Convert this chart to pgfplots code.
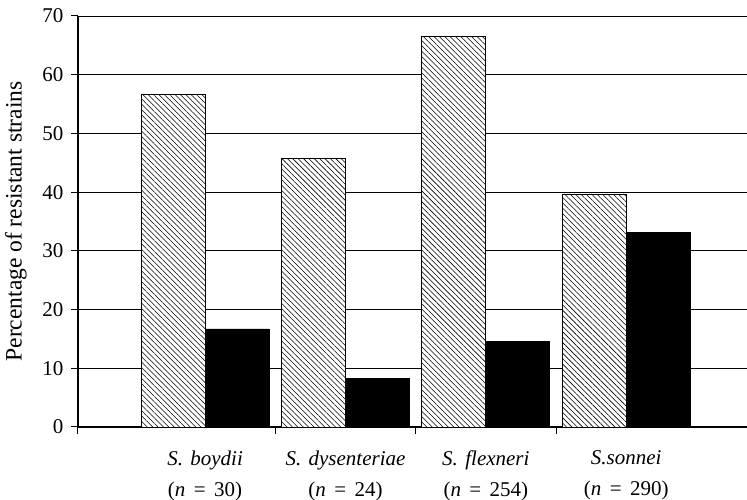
\documentclass[border=0pt]{standalone}
\usepackage{fontspec}
\setmainfont{Liberation Serif}
\usepackage{pgfplots}
\pgfplotsset{compat=1.18}
\usetikzlibrary{patterns.meta}
\begin{document}
\begin{tikzpicture}
\useasboundingbox (-78pt,-73pt) rectangle (669pt,427pt);
\begin{axis}[
  at={(0pt,0pt)}, anchor=south west,
  scale only axis, width=669pt, height=411pt,
  xmin=-0.905, xmax=3.86, ymin=0, ymax=70,
  ybar=0pt, bar width=0.456,
  axis x line*=bottom, axis y line*=left,
  axis line style={-, line width=1.2pt, black},
  ytick={0,10,...,70},
  ymajorgrids, major grid style={black, line width=0.8pt},
  tick align=outside, major tick length=7pt,
  tick style={black, line width=1pt},
  /pgf/number format/assume math mode=true,
  yticklabel style={font=\fontsize{21}{24}\selectfont, xshift=-4pt},
  xtick={-0.905,0.5,1.5,2.5}, xticklabels={},
  extra x ticks={0,1,2,3},
  extra x tick labels={{\textit{S.\hspace{0.35em}boydii}\\(\textit{n}\hspace{0.4em}=\hspace{0.4em}30)},{\textit{S.\hspace{0.35em}dysenteriae}\\(\textit{n}\hspace{0.4em}=\hspace{0.4em}24)},{\textit{S.\hspace{0.35em}flexneri}\\(\textit{n}\hspace{0.4em}=\hspace{0.4em}254)},{\textit{S.sonnei}\\(\textit{n}\hspace{0.4em}=\hspace{0.4em}290)}},
  extra x tick style={major tick length=0pt, tick label style={align=center, font=\fontsize{21}{31}\selectfont, yshift=-20pt}},
  ylabel={Percentage of resistant strains},
  ylabel style={font=\fontsize{23.5}{26}\selectfont, at={(axis description cs:-0.093,0.5)}, anchor=center},
]
\addplot[fill=white, draw=black, line width=0.8pt, postaction={pattern={Lines[angle=-45,distance=3.8pt,line width=0.55pt]}}]
  coordinates {(0,56.7) (1,45.8) (2,66.5) (3,39.7)};
\addplot[fill=black, draw=black, line width=0.8pt]
  coordinates {(0,16.7) (1,8.3) (2,14.6) (3,33.1)};
\end{axis}
\end{tikzpicture}
\end{document}
